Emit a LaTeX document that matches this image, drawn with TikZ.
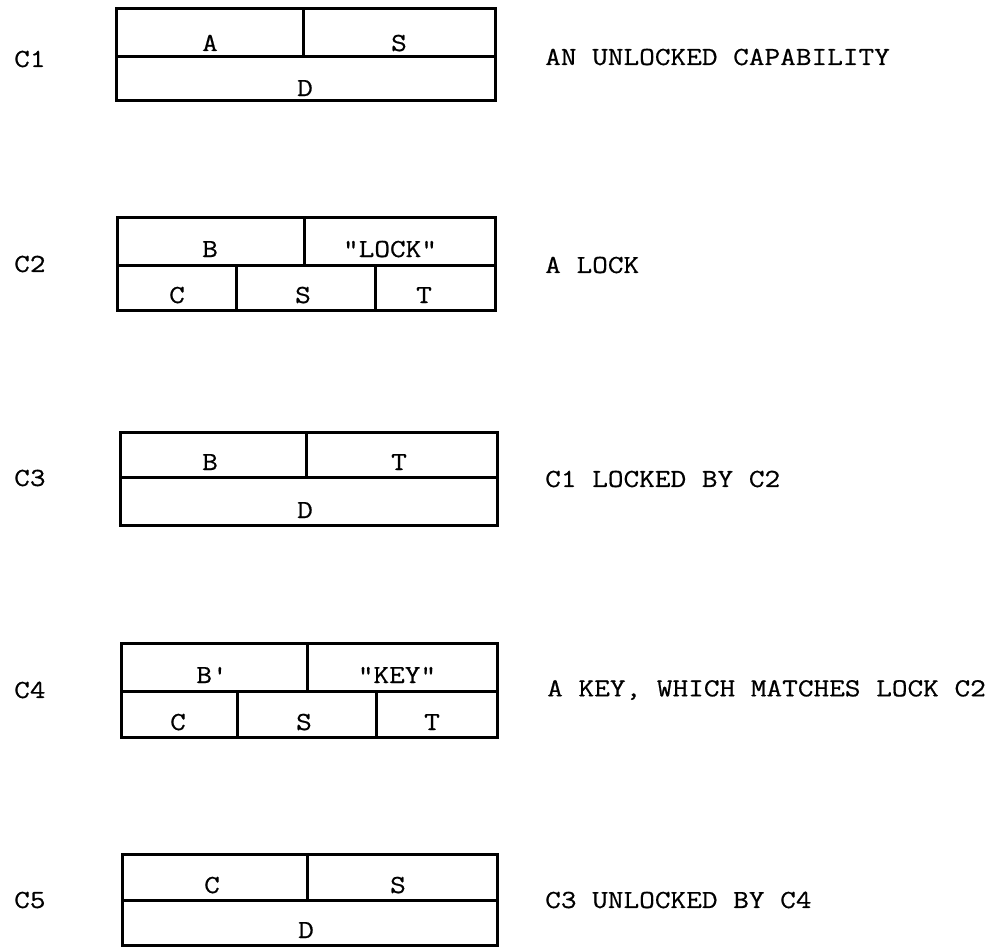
\documentclass[tikz,border=0pt]{standalone}
\usepackage{fontspec}
\newfontfamily\typefont{Latin Modern Mono}[FakeStretch=1.17,FakeBold=0.6]
\begin{document}
\begin{tikzpicture}[x=1pt,y=-1pt,
  boxline/.style={line width=3pt, line join=miter},
  txt/.style={font=\typefont\fontsize{26}{30}\selectfont, inner sep=0pt},
  cell/.style={txt, anchor=base},
  lbl/.style={txt, anchor=west},
  desc/.style={txt, anchor=west}]
\useasboundingbox (0,0) rectangle (992,950);
% ---- C1
\draw[boxline] (116,9) rectangle (495,100);
\draw[boxline] (116,57) -- (495,57);
\draw[boxline] (303,9) -- (303,57);
\node[cell] (c1a) at (210,51) {A};
\node[cell] (c1s) at (399,51) {S};
\node[cell] (c1d) at (305,96) {D};
\node[lbl] (c1l) at (14,59) {C1};
\node[desc] (c1t) at (545,57) {AN UNLOCKED CAPABILITY};
% ---- C2
\draw[boxline] (117,217) rectangle (495,310);
\draw[boxline] (117,265) -- (495,265);
\draw[boxline] (304,217) -- (304,265);
\draw[boxline] (236,265) -- (236,310);
\draw[boxline] (375,265) -- (375,310);
\node[cell] (c2b) at (210,257) {B};
\node[cell] (c2k) at (390,257) {"LOCK"};
\node[cell] (c2c) at (177,303) {C};
\node[cell] (c2s) at (303,303) {S};
\node[cell] (c2tt) at (424,303) {T};
\node[lbl] (c2l) at (14,264) {C2};
\node[desc] (c2t) at (545,265) {A LOCK};
% ---- C3
\draw[boxline] (120,432) rectangle (497,525);
\draw[boxline] (120,477) -- (497,477);
\draw[boxline] (306,432) -- (306,477);
\node[cell] (c3b) at (210,470) {B};
\node[cell] (c3tt) at (399,470) {T};
\node[cell] (c3d) at (305,518) {D};
\node[lbl] (c3l) at (14,478) {C3};
\node[desc] (c3t) at (545,479) {C1 LOCKED BY C2};
% ---- C4
\draw[boxline] (121,643) rectangle (497,737);
\draw[boxline] (121,691) -- (497,691);
\draw[boxline] (307,643) -- (307,691);
\draw[boxline] (237,691) -- (237,737);
\draw[boxline] (376,691) -- (376,737);
\node[cell] (c4b) at (212,683) {B'};
\node[cell] (c4k) at (397,683) {"KEY"};
\node[cell] (c4c) at (178,730) {C};
\node[cell] (c4s) at (304,730) {S};
\node[cell] (c4tt) at (432,730) {T};
\node[lbl] (c4l) at (14,690) {C4};
\node[desc] (c4t) at (547,690) {A KEY, WHICH MATCHES LOCK C2};
% ---- C5
\draw[boxline] (122,854) rectangle (497,945);
\draw[boxline] (122,900) -- (497,900);
\draw[boxline] (307,854) -- (307,900);
\node[cell] (c5c) at (212,893) {C};
\node[cell] (c5s) at (398,893) {S};
\node[cell] (c5d) at (306,938) {D};
\node[lbl] (c5l) at (14,900) {C5};
\node[desc] (c5t) at (545,900) {C3 UNLOCKED BY C4};
\end{tikzpicture}
\end{document}
